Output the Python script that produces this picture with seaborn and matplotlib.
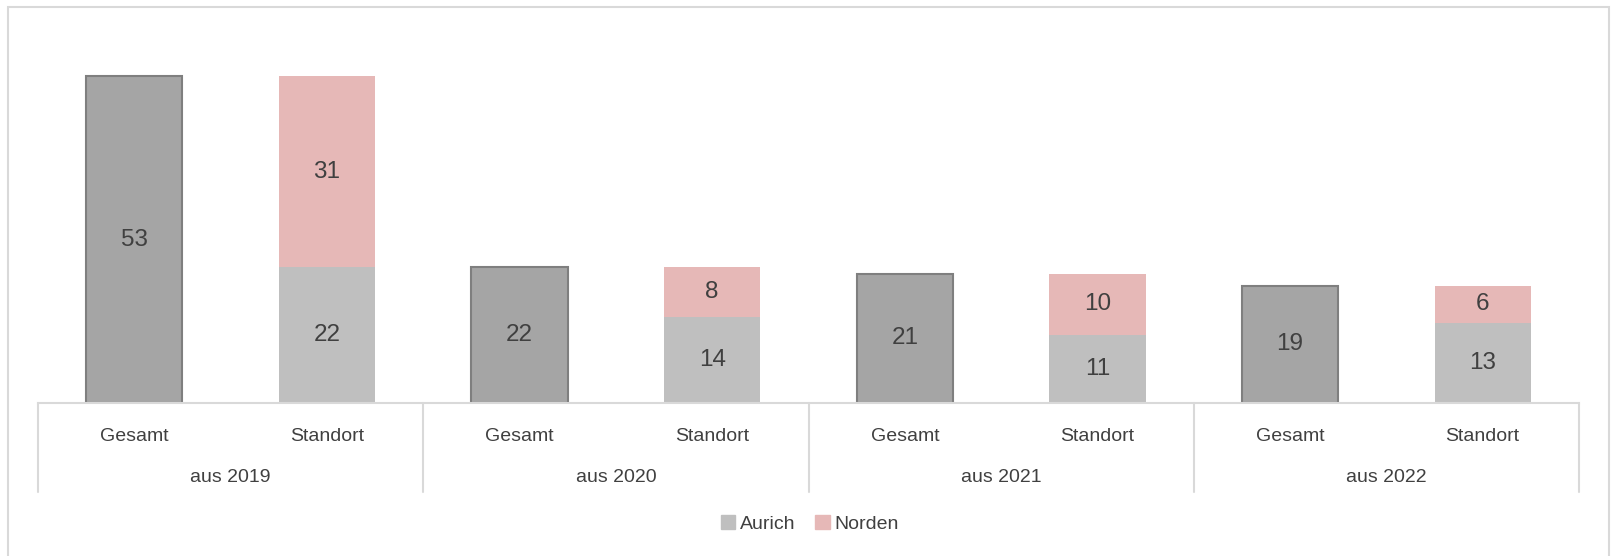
import numpy as np
import pandas as pd
import seaborn as sns
import matplotlib.pyplot as plt
from matplotlib.patches import Rectangle, Patch
from matplotlib.transforms import blended_transform_factory

years = ['aus 2019', 'aus 2020', 'aus 2021', 'aus 2022']
sub_labels = ['Gesamt', 'Standort']
gesamt = [53, 22, 21, 19]
aurich = [22, 14, 11, 13]
norden = [31, 8, 10, 6]

c_gesamt = '#A5A5A5'
c_aurich = '#BFBFBF'
c_norden = '#E6B8B7'
txt = '#404040'
grid = '#D9D9D9'

sns.set_theme(style='white')
plt.rcParams['font.family'] = ['Liberation Sans Narrow', 'Liberation Sans', 'DejaVu Sans']

keys = [f'{y}|{s}' for y in years for s in sub_labels]
df_g = pd.DataFrame({'key': [f'{y}|Gesamt' for y in years], 'value': gesamt})
df_s = pd.DataFrame({'key': [f'{y}|Standort' for y in years],
                     'aurich': aurich,
                     'total': np.array(aurich) + np.array(norden)})

W, H = 1613, 556
fig = plt.figure(figsize=(W / 100, H / 100), dpi=100)
ax = fig.add_axes([38 / W, (H - 403) / H, (1579 - 38) / W, 370 / H])

sns.barplot(data=df_g, x='key', y='value', order=keys, color=c_gesamt,
            width=0.5, edgecolor='#7F7F7F', linewidth=1.5, saturation=1, ax=ax)
sns.barplot(data=df_s, x='key', y='total', order=keys, color=c_norden,
            width=0.5, linewidth=0, saturation=1, ax=ax)
sns.barplot(data=df_s, x='key', y='aurich', order=keys, color=c_aurich,
            width=0.5, linewidth=0, saturation=1, ax=ax)

ax.set_xlim(-0.5, len(keys) - 0.5)
ax.set_ylim(0, 60)
ax.set_xlabel('')
ax.set_ylabel('')
ax.set_yticks([])
for s in ['top', 'left', 'right']:
    ax.spines[s].set_visible(False)
ax.spines['bottom'].set_color(grid)
ax.spines['bottom'].set_linewidth(1.5)

# value labels
fs_val = 17.5
for i in range(len(years)):
    ax.text(2 * i, gesamt[i] / 2, str(gesamt[i]), ha='center', va='center',
            fontsize=fs_val, color=txt)
    ax.text(2 * i + 1, aurich[i] / 2, str(aurich[i]), ha='center', va='center',
            fontsize=fs_val, color=txt)
    ax.text(2 * i + 1, aurich[i] + norden[i] / 2, str(norden[i]), ha='center',
            va='center', fontsize=fs_val, color=txt)

# two-level category axis
ax.set_xticks(range(len(keys)))
ax.set_xticklabels([k.split('|')[1] for k in keys], fontsize=14, color=txt)
ax.tick_params(axis='x', length=0, pad=18)
tr = blended_transform_factory(ax.transData, ax.transAxes)
for i, y in enumerate(years):
    ax.text(2 * i + 0.5, -74 / 370, y, transform=tr, ha='center', va='center',
            fontsize=14, color=txt)
for xs in np.arange(-0.5, len(keys), 2):
    ax.plot([xs, xs], [0, -89 / 370], transform=tr, color=grid, lw=1.5,
            clip_on=False)

# legend
handles = [Patch(color=c_aurich, label='Aurich'), Patch(color=c_norden, label='Norden')]
fig.legend(handles=handles, loc='center', bbox_to_anchor=(810 / W, 1 - 524 / H),
           ncol=2, frameon=False, fontsize=14, handlelength=0.75, handleheight=0.75,
           handletextpad=0.25, columnspacing=1.0, labelcolor=txt)

# chart border (bottom edge runs off the image)
fig.patches.append(Rectangle((8 / W, -0.05), 1601 / W, (H - 7) / H + 0.05,
                             transform=fig.transFigure, fill=False,
                             edgecolor=grid, lw=1.5))

fig.savefig('out.png', dpi=100)
